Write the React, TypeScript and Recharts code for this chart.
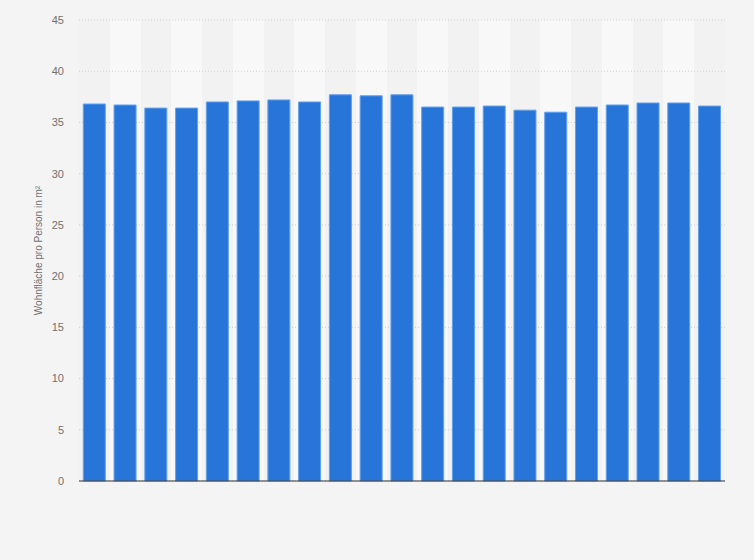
import React from "react";
import {
  BarChart,
  Bar,
  XAxis,
  YAxis,
  CartesianGrid,
} from "recharts";

// no category labels are shown in the chart; years are placeholders
const years = [
  "1998", "1999", "2000", "2001", "2002", "2003", "2004",
  "2005", "2006", "2007", "2008", "2009", "2010", "2011",
  "2012", "2013", "2014", "2015", "2016", "2017", "2018",
];

const livingSpace = [
  36.8, 36.7, 36.4, 36.4, 37.0, 37.1, 37.2,
  37.0, 37.7, 37.6, 37.7, 36.5, 36.5, 36.6,
  36.2, 36.0, 36.5, 36.7, 36.9, 36.9, 36.6,
];

const yTicks = [0, 5, 10, 15, 20, 25, 30, 35, 40, 45];

const data = years.map((year, i) => ({ year, value: livingSpace[i] }));

const colors = {
  background: "#f4f4f4",
  bar: "#2775d9",
  barEdge: "#62a0ea",
  grid: "#cfcfcf",
  text: "#707070",
  axis: "#333333",
};

const font = "'Liberation Sans', Arial, sans-serif";

export default function App() {
  return (
    <div
      style={{
        position: "absolute",
        left: 0,
        top: 0,
        width: 754,
        height: 560,
        background: colors.background,
        fontFamily: font,
      }}
    >
      <BarChart
        width={754}
        height={560}
        data={data}
        margin={{ top: 20, right: 29, bottom: 49, left: 0 }}
        barCategoryGap="14%"
      >
        {/* alternating column stripes */}
        <CartesianGrid
          horizontal={false}
          stroke="none"
          verticalFill={["#f2f2f2", "#f8f8f8"]}
          verticalCoordinatesGenerator={({ offset }: any) =>
            years.map((_, i) => offset.left + (i * offset.width) / years.length)
          }
        />
        <CartesianGrid
          vertical={false}
          stroke={colors.grid}
          strokeDasharray="1 2"
        />
        <XAxis
          dataKey="year"
          tick={false}
          tickLine={false}
          height={30}
          axisLine={{ stroke: colors.axis, strokeWidth: 1.2 }}
        />
        <YAxis
          width={79}
          domain={[0, 45]}
          ticks={yTicks}
          axisLine={false}
          tickLine={false}
          tickMargin={9}
          tick={{ fill: colors.text, fontSize: 11, fontFamily: font }}
          label={{
            value: "Wohnfläche pro Person in m²",
            angle: -90,
            position: "center",
            dx: -1,
            style: { fill: colors.text, fontSize: 10, fontFamily: font },
          }}
        />
        <Bar
          dataKey="value"
          fill={colors.bar}
          stroke={colors.barEdge}
          strokeWidth={1}
          isAnimationActive={false}
        />
      </BarChart>
    </div>
  );
}
